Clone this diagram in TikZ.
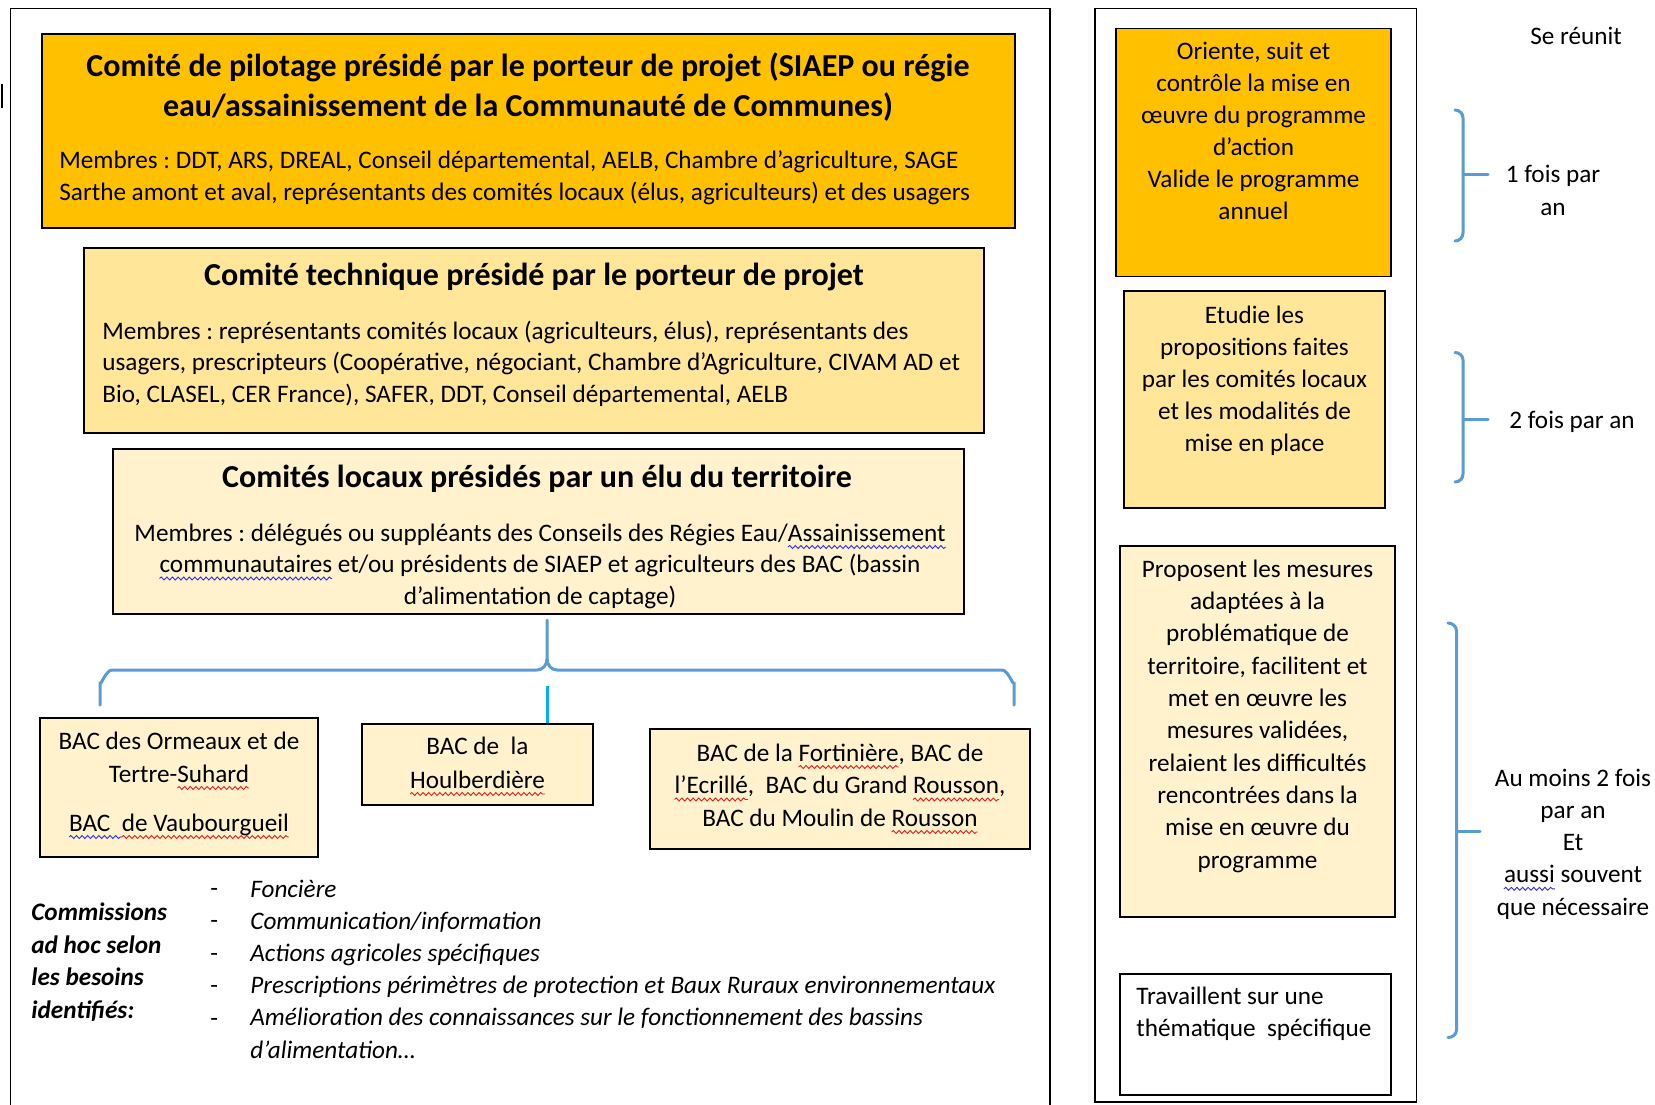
\documentclass[tikz,border=0pt]{standalone}
\usepackage{fontspec}
\setmainfont{Carlito}
\usetikzlibrary{fit,decorations.pathmorphing}
\definecolor{orA}{HTML}{FFC000}
\definecolor{orB}{HTML}{FFE699}
\definecolor{orC}{HTML}{FFF2CC}
\definecolor{brc}{HTML}{5B9BD5}
\definecolor{cyn}{HTML}{00B0F0}
\definecolor{wvr}{HTML}{E02020}
\definecolor{wvb}{HTML}{3030E0}
\frenchspacing
\newsavebox\wavbox
\newcommand\wavline[2]{\sbox\wavbox{#2}\tikz[overlay,baseline=0pt]\draw[#1, line width=0.45pt, decorate, decoration={snake, amplitude=0.75pt, segment length=2.8pt}] (0pt,-3pt) -- (\wd\wavbox,-3pt);\usebox\wavbox}
\newcommand\wavr[1]{\wavline{wvr}{#1}}
\newcommand\wavb[1]{\wavline{wvb}{#1}}
\newcommand\fs[1]{\fontsize{12.6}{#1}\selectfont}
\begin{document}
\begin{tikzpicture}[x=0.5pt,y=-0.5pt,
  box/.style={draw=black, line width=0.9pt, inner sep=0pt},
  txt/.style={inner sep=0pt, anchor=base, font=\fs{16}},
  ttl/.style={inner sep=0pt, anchor=base, font=\fontsize{16}{20}\selectfont\bfseries},
  brace/.style={draw=brc, line width=1.5pt, line cap=round}]
\useasboundingbox (0,0) rectangle (1655,1104);
\fill[white] (0,0) rectangle (1655,1104);

% frames
\node[box, fit={(10.5,8.4) (1050,1115)}] (leftframe) {};
\node[box, fit={(1094.6,8.4) (1416.5,1102)}] (rightframe) {};
\draw[line width=0.6pt] (2,84) -- (2,108);

% left boxes
\node[box, fill=orA, fit={(42,34) (1015,228)}] (pilot) {};
\node[box, fill=orB, fit={(84,248) (984,433)}] (tech) {};
\node[box, fill=orC, fit={(113,449) (964,614)}] (local) {};
\node[box, fill=orC, fit={(40,718) (318,857)}] (bacA) {};
\node[box, fill=orC, fit={(362,724) (593,805)}] (bacB) {};
\node[box, fill=orC, fit={(650,729) (1030,849)}] (bacC) {};

% right boxes
\node[box, fill=orA, fit={(1116,28.5) (1391,276.5)}] (rA) {};
\node[box, fill=orB, fit={(1124,291) (1385,508)}] (rB) {};
\node[box, fill=orC, fit={(1120,546) (1395,917)}] (rC) {};
\node[box, fill=white, fit={(1120,974) (1391,1095)}] (rD) {};

% texts left (anchor base = baseline of the last line)
\node[ttl, align=center] (pilotT) at (528,116) {Comité de pilotage présidé par le porteur de projet (SIAEP ou régie\\eau/assainissement de la Communauté de Communes)};
\node[txt, align=left, anchor=base west] (pilotM) at (59,200) {Membres : DDT, ARS, DREAL, Conseil départemental, AELB, Chambre d’agriculture, SAGE\\Sarthe amont et aval, représentants des comités locaux (élus, agriculteurs) et des usagers};

\node[ttl] (techT) at (534,285) {Comité technique présidé par le porteur de projet};
\node[txt, align=left, anchor=base west, font=\fs{15.75}] (techM) at (102,402) {Membres : représentants comités locaux (agriculteurs, élus), représentants des\\usagers, prescripteurs (Coopérative, négociant, Chambre d’Agriculture, CIVAM AD et\\Bio, CLASEL, CER France), SAFER, DDT, Conseil départemental, AELB};

\node[ttl] (localT) at (537,487) {Comités locaux présidés par un élu du territoire};
\node[txt, align=center, font=\fs{15.75}] (localM) at (540,604) {Membres : délégués ou suppléants des Conseils des Régies Eau/\wavb{Assainissement}\\\wavb{communautaires} et/ou présidents de SIAEP et agriculteurs des BAC (bassin\\d’alimentation de captage)};

\node[txt, align=center, font=\fs{16.5}] (bacAT) at (179,831) {BAC des Ormeaux et de\\Tertre-\wavr{Suhard}\\[8pt]\wavb{BAC\ \ }\wavr{de Vaubourgueil}};
\node[txt, align=center, font=\fs{17}] (bacBT) at (477.5,788) {BAC de\ \ la\\\wavr{Houlberdière}};
\node[txt, align=center, font=\fs{16.25}] (bacCT) at (840,826) {BAC de la \wavr{Fortinière}, BAC de\\\wavr{l’Ecrillé},\ \ BAC du Grand \wavr{Rousson},\\BAC du Moulin de \wavr{Rousson}};

% braces / connectors
\coordinate (btip) at (547,620);
\draw[brace] (100,705) -- (100,682) to[out=-90,in=180] (112,670) -- (537,670) to[out=0,in=-90] (547,659) -- (btip);
\draw[brace] (547,659) to[out=-90,in=180] (557,670) -- (1002,670) to[out=0,in=-90] (1014,682) -- (1014,705);
\coordinate (ctop) at (547,686);
\draw[draw=cyn, line width=1.5pt] (ctop) -- (ctop |- bacB.north);

% commissions
\node[txt, align=left, anchor=base west, font=\fs{16.2}\bfseries\itshape] (comm) at (31,1018) {Commissions\\ad hoc selon\\les besoins\\identifiés:};
\node[txt, align=left, anchor=base west, font=\fs{16.2}] (dashes) at (210,1026) {-\\-\\-\\-\\-};
\node[txt, align=left, anchor=base west, font=\fs{16.1}\itshape] (items) at (250,1058) {Foncière\\Communication/information\\Actions agricoles spécifiques\\Prescriptions périmètres de protection et Baux Ruraux environnementaux\\Amélioration des connaissances sur le fonctionnement des bassins\\d’alimentation…};

% texts right
\node[txt, align=center] (rAT) at (1253.5,219) {Oriente, suit et\\contrôle la mise en\\œuvre du programme\\d’action\\Valide le programme\\annuel};
\node[txt, align=center] (rBT) at (1254.5,451) {Etudie les\\propositions faites\\par les comités locaux\\et les modalités de\\mise en place};
\node[txt, align=center, font=\fs{16.15}] (rCT) at (1257.5,868) {Proposent les mesures\\adaptées à la\\problématique de\\territoire, facilitent et\\met en œuvre les\\mesures validées,\\relaient les difficultés\\rencontrées dans la\\mise en œuvre du\\programme};
\node[txt, align=left, anchor=base west] (rDT) at (1136,1036) {Travaillent sur une\\thématique\ \ spécifique};

\node[txt] (reunit) at (1576,44) {Se réunit};
\node[txt, align=center, font=\fs{16.5}] (f1) at (1553,215) {1 fois par\\an};
\node[txt] (f2) at (1572,428) {2 fois par an};
\node[txt, align=center, font=\fs{16.1}] (f3) at (1573,915) {Au moins 2 fois\\par an\\Et\\\wavb{aussi} souvent\\que nécessaire};

% right brackets
\draw[brace] (1455,110) to[out=0,in=90] (1463,118) -- (1463,233) to[out=-90,in=0] (1455,241);
\draw[brace] (1463,174) -- (1488,174);
\draw[brace] (1455,352.5) to[out=0,in=90] (1463,360) -- (1463,474) to[out=-90,in=0] (1455,482);
\draw[brace] (1463,419) -- (1488,419);
\draw[brace] (1448,623) to[out=0,in=90] (1456.5,631) -- (1456.5,1030) to[out=-90,in=0] (1448,1037.5);
\draw[brace] (1456.5,831) -- (1480,831);
\end{tikzpicture}
\end{document}
